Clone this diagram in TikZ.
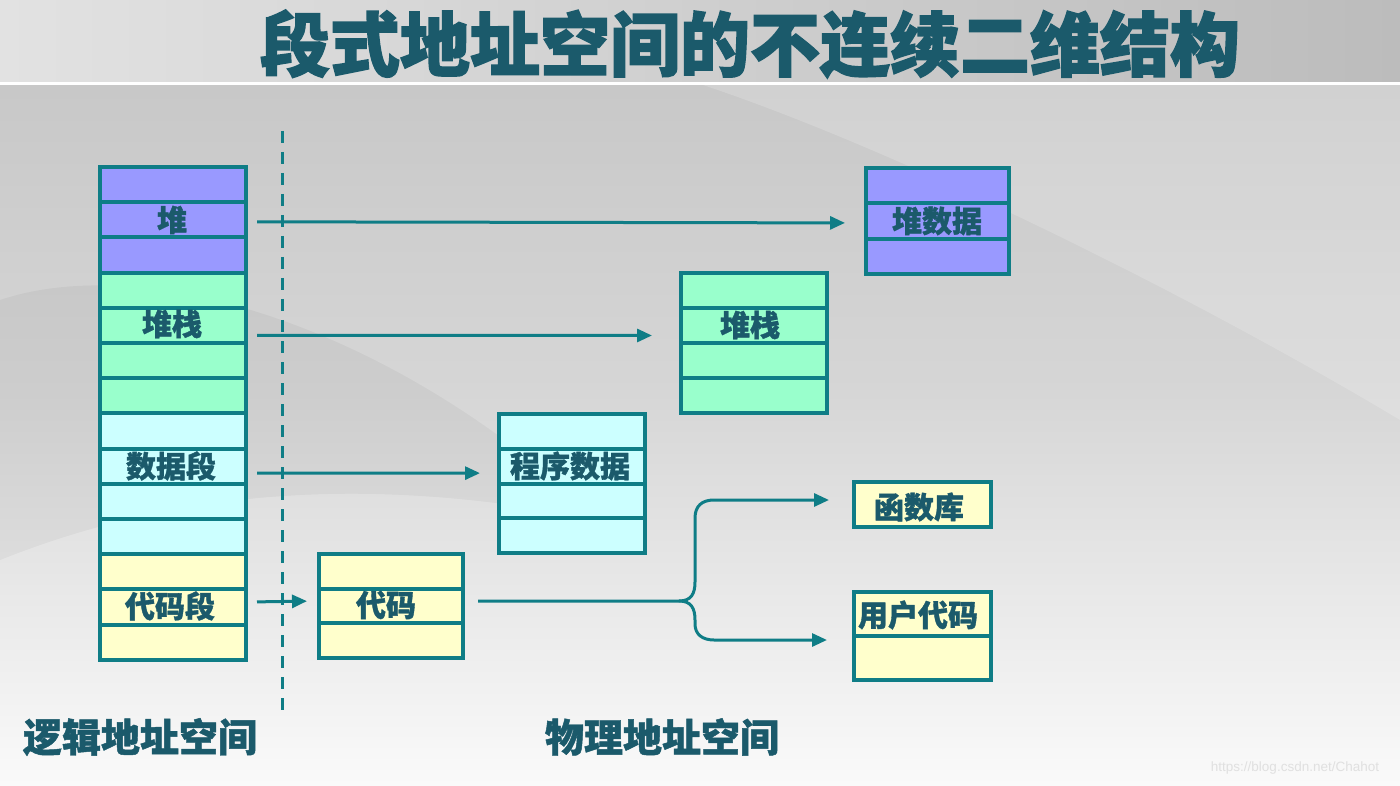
\documentclass[tikz,border=0pt]{standalone}
\usepackage{fontspec}
\newfontfamily\cjk{Noto Sans CJK SC}[BoldFeatures={FakeBold=1.2}]
\newfontfamily\cjkh{Noto Sans CJK SC}[BoldFeatures={FakeBold=2}]
\setsansfont{Liberation Sans}
\usetikzlibrary{arrows.meta,calc}
\definecolor{bord}{HTML}{0F7D86}
\definecolor{txt}{HTML}{1B5A6B}
\definecolor{heapc}{HTML}{9999FF}
\definecolor{stackc}{HTML}{99FFCC}
\definecolor{datac}{HTML}{CCFFFF}
\definecolor{codec}{HTML}{FFFFCC}
\definecolor{bgtop}{HTML}{C4C4C4}
\definecolor{bgmid}{HTML}{D6D6D6}
\definecolor{bgbot}{HTML}{FAFAFA}
\definecolor{bandl}{HTML}{E2E2E2}
\definecolor{bandr}{HTML}{BCBCBC}
\tikzset{
  cell/.style={draw=bord, line width=4pt, inner sep=0pt},
  lcell/.style={cell, minimum width=146pt, minimum height=35.2pt},
  lab/.style={font=\cjk\bfseries\fontsize{30}{30}\selectfont, text=txt, inner sep=0pt},
  biglab/.style={font=\cjk\bfseries\fontsize{39}{39}\selectfont, text=txt, inner sep=0pt},
  bline/.style={draw=bord, line width=3pt},
  arr/.style={bline, -{Triangle[length=15pt,width=13pt]}},
  dline/.style={draw=bord, line width=3pt, dash pattern=on 12pt off 9pt}
}
\begin{document}
\begin{tikzpicture}[x=1pt,y=-1pt]
\useasboundingbox (0,0) rectangle (1400,786);
% background
\shade[top color=bgtop, bottom color=bgbot, middle color=bgmid] (0,0) rectangle (1400,786);
\shade[left color=bandl, right color=bandr] (0,0) rectangle (1400,84);
\fill[white, opacity=0.18] (700,84) .. controls (900,150) and (1200,300) .. (1400,420) -- (1400,84) -- cycle;
\fill[black, opacity=0.04] (0,300) .. controls (150,250) and (400,330) .. (600,520) .. controls (400,480) and (200,480) .. (0,560) -- cycle;
\draw[white, line width=3pt] (0,84) -- (1400,84);

% title
\node[font=\cjkh\bfseries\fontsize{70}{70}\selectfont, text=txt, inner sep=0pt] (title) at (750,44) {段式地址空间的不连续二维结构};

% logical address space column
\foreach \i/\c in {1/heapc,2/heapc,3/heapc,4/stackc,5/stackc,6/stackc,7/stackc,8/datac,9/datac,10/datac,11/datac,12/codec,13/codec,14/codec}
  \node[lcell, fill=\c] (L\i) at (173,{167+35.2*(\i-0.5)}) {};

% heap data box
\foreach \i in {1,2,3}
  \node[cell, fill=heapc, minimum width=143pt, minimum height=35.3pt] (HD\i) at (937.5,{168+35.3*(\i-0.5)}) {};
% stack box
\foreach \i in {1,2,3,4}
  \node[cell, fill=stackc, minimum width=146pt, minimum height=35pt] (RS\i) at (754,{273+35*(\i-0.5)}) {};
% program data box
\foreach \i in {1,2,3,4}
  \node[cell, fill=datac, minimum width=146pt, minimum height=34.75pt] (PD\i) at (572,{414+34.75*(\i-0.5)}) {};
% code box
\foreach \i in {1,2,3}
  \node[cell, fill=codec, minimum width=144pt, minimum height=34.67pt] (CD\i) at (391,{554+34.67*(\i-0.5)}) {};
% library box
\node[cell, fill=codec, minimum width=137pt, minimum height=45pt] (LIB) at (922.5,504.5) {};
% user code box
\node[cell, fill=codec, minimum width=137pt, minimum height=44pt] (UC1) at (922.5,614) {};
\node[cell, fill=codec, minimum width=137pt, minimum height=44pt] (UC2) at (922.5,658) {};

% labels
\node[lab] (tHeap) at (172,220) {堆};
\node[lab] (tStack) at (172,324) {堆栈};
\node[lab] (tData) at (171,466) {数据段};
\node[lab] (tCode) at (170,606) {代码段};
\node[lab] (tHD) at (937,221) {堆数据};
\node[lab] (tRS) at (750,325) {堆栈};
\node[lab] (tPD) at (570,466) {程序数据};
\node[lab] (tCD) at (386,605) {代码};
\node[lab] (tLIB) at (919,507) {函数库};
\node[lab] (tUC) at (918,615) {用户代码};

% dashed divider
\coordinate (dtop) at (282,131);
\coordinate (dbot) at (282,715);
\draw[dline] (dtop) -- (dbot);

% arrows
\draw[arr, shorten <=9pt, shorten >=19pt] ([yshift=-2pt]L2.east) -- ([yshift=-2pt]HD2.west);
\draw[arr, shorten <=9pt, shorten >=27pt] ([yshift=-10pt]L5.east) -- ([yshift=-10pt]RS2.west);
\draw[arr, shorten <=9pt, shorten >=17pt] ([yshift=-7pt]L9.east) -- ([yshift=-7pt]PD2.west);
\draw[arr, shorten <=9pt, shorten >=10pt] ([yshift=5pt]L13.east) -- ([yshift=5pt]CD2.west);

% brace connector
\coordinate (br) at (679,601);
\coordinate (up) at (829,500);
\coordinate (dn) at (827,640);
\draw[bline, shorten <=13pt] ([yshift=5pt]CD2.east) -- (br);
\draw[arr] (br) .. controls (691,601) and (695,594) .. (695,582) -- (695,518) .. controls (695,506) and (702,500) .. (714,500) -- (up);
\draw[arr] (br) .. controls (691,601) and (695,608) .. (695,620) -- (695,624) .. controls (695,634) and (702,640) .. (714,640) -- (dn);

% bottom labels
\node[biglab] (logic) at (140,737) {逻辑地址空间};
\node[biglab] (phys) at (662,737) {物理地址空间};

% watermark
\node[font=\sffamily\fontsize{13.5}{13.5}\selectfont, text=white!88!black, inner sep=0pt] (wm) at (1295,768) {https://blog.csdn.net/Chahot};
\end{tikzpicture}
\end{document}
